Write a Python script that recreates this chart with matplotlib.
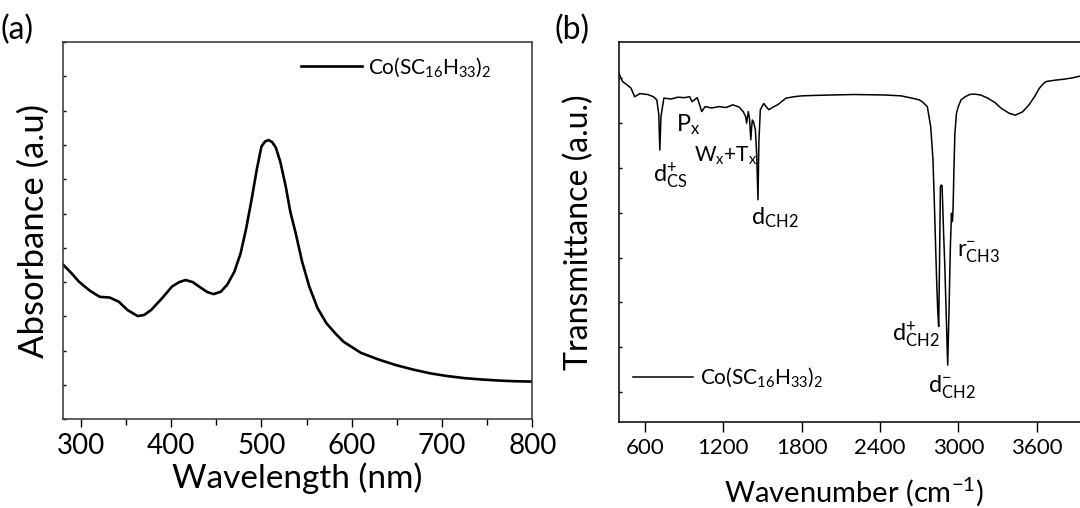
import matplotlib
matplotlib.use("Agg")
import matplotlib.pyplot as plt
from matplotlib.ticker import MultipleLocator, NullFormatter

plt.rcParams['font.family'] = ['Lato', 'DejaVu Sans']
plt.rcParams['mathtext.fontset'] = 'custom'
plt.rcParams['mathtext.rm'] = 'Lato'
plt.rcParams['mathtext.it'] = 'Lato:italic'
plt.rcParams['mathtext.bf'] = 'Lato:bold'

# (a) UV-vis absorbance
wavelength = [280, 290, 298, 310, 321, 332, 342, 352, 363, 370, 378, 390, 401,
              409, 416, 424, 431, 440, 447, 455, 462, 470, 477, 483, 489, 495,
              500, 504, 508, 512, 516, 521, 527, 532, 538, 545, 553, 562, 572,
              582, 591, 610, 630, 649, 668, 687, 706, 725, 744, 763, 780, 800]
absorbance = [4.52, 4.25, 4.01, 3.75, 3.57, 3.55, 3.43, 3.18, 3.01, 3.04, 3.19,
              3.53, 3.87, 4.00, 4.06, 4.00, 3.87, 3.71, 3.65, 3.72, 3.92, 4.30,
              4.84, 5.55, 6.39, 7.30, 7.95, 8.10, 8.14, 8.08, 7.92, 7.50, 6.78,
              6.05, 5.42, 4.60, 3.87, 3.25, 2.80, 2.50, 2.26, 1.94, 1.74, 1.58,
              1.45, 1.34, 1.26, 1.20, 1.16, 1.13, 1.11, 1.10]

# (b) FTIR transmittance
wavenumber = [400, 428, 460, 493, 520, 560, 620, 665, 690, 705, 713, 722, 744,
              800, 850, 900, 942, 960, 1000, 1034, 1060, 1110, 1166, 1220, 1272,
              1320, 1351, 1370, 1378, 1385, 1391, 1400, 1410, 1416, 1422, 1432,
              1445, 1455, 1465, 1472, 1483, 1509, 1530, 1549, 1580, 1615, 1650,
              1680, 1740, 1799, 1900, 2037, 2200, 2432, 2560, 2644, 2700, 2723,
              2762, 2788, 2805, 2815, 2826, 2834, 2842, 2849, 2855, 2862, 2868,
              2875, 2886, 2896, 2908, 2918, 2928, 2938, 2947, 2951, 2955, 2960,
              2966, 2973, 2985, 2999, 3020, 3052, 3085, 3118, 3170, 3224, 3280,
              3329, 3390, 3435, 3490, 3541, 3585, 3620, 3650, 3672, 3740, 3804,
              3870, 3932, 4000]
transmittance = [81.1, 79.3, 78.6, 77.8, 75.9, 76.6, 76.4, 75.9, 75.2, 72.0,
                 64.0, 71.5, 75.6, 75.4, 75.8, 75.7, 75.9, 74.8, 75.7, 72.6,
                 73.7, 73.4, 73.7, 73.5, 74.1, 73.6, 72.6, 71.5, 70.0, 71.5,
                 72.6, 71.0, 66.3, 69.0, 70.7, 70.2, 68.5, 63.0, 52.9, 66.0,
                 73.0, 74.4, 73.6, 73.0, 73.6, 74.1, 74.9, 75.6, 75.9, 76.1,
                 76.2, 76.3, 76.4, 76.3, 76.1, 75.6, 75.2, 74.8, 73.7, 69.2,
                 62.0, 52.9, 42.0, 34.3, 28.0, 24.6, 38.0, 55.8, 56.2, 56.0,
                 46.0, 38.0, 26.0, 16.0, 28.0, 42.0, 49.9, 48.0, 48.2, 52.0,
                 60.0, 67.7, 72.2, 73.7, 75.2, 75.9, 76.4, 76.5, 76.3, 75.6,
                 74.6, 73.3, 72.2, 71.8, 72.5, 74.1, 76.0, 77.8, 78.8, 79.3,
                 79.6, 79.8, 80.1, 80.5, 80.7]

ftir_labels = ['d$^{+}_{\\mathregular{CS}}$', 'P$_\\mathregular{x}$',
               'W$_\\mathregular{x}$+T$_\\mathregular{x}$',
               'd$_\\mathregular{CH2}$', 'r$^{-}_{\\mathregular{CH3}}$',
               'd$^{+}_{\\mathregular{CH2}}$', 'd$^{-}_{\\mathregular{CH2}}$']
label_x = [660, 837, 975, 1409, 2992, 2490, 2770]
label_y = [56.6, 68.1, 61.4, 47.3, 40.2, 21.2, 10.1]
label_size = [17, 17, 15, 17, 17, 17, 17]

sample = 'Co(SC$_\\mathregular{16}$H$_\\mathregular{33}$)$_\\mathregular{2}$'

fig = plt.figure(figsize=(10.8, 5.08), dpi=100)

# ---- panel (a)
ax1 = fig.add_axes([0.0581, 0.1746, 0.4348, 0.7427])
ax1.plot(wavelength, absorbance, color='black', lw=1.9, label=sample)
ax1.set_xlim(280, 800)
ax1.set_ylim(0, 11)
ax1.xaxis.set_major_locator(MultipleLocator(100))
ax1.xaxis.set_minor_locator(MultipleLocator(50))
ax1.yaxis.set_major_locator(MultipleLocator(1))
ax1.yaxis.set_major_formatter(NullFormatter())
ax1.tick_params(axis='x', which='major', direction='out', length=6, width=1,
                labelsize=20, pad=4)
ax1.tick_params(axis='x', which='minor', direction='out', length=4, width=1)
ax1.tick_params(axis='y', direction='in', length=2, width=1)
for s in ax1.spines.values():
    s.set_linewidth(1.1)
    s.set_color('#333333')
ax1.set_xlabel('Wavelength (nm)', fontsize=24, labelpad=2)
ax1.set_ylabel('Absorbance (a.u)', fontsize=25, labelpad=6)
ax1.legend(loc='center left', bbox_to_anchor=(0.49, 0.934), frameon=False,
           fontsize=15, handlelength=2.9, handletextpad=0.3, borderaxespad=0)
fig.text(0.0, 0.912, '(a)', fontsize=23, ha='left', va='bottom')

# ---- panel (b)
ax2 = fig.add_axes([0.5731, 0.1699, 0.4352, 0.7474])
ax2.plot(wavenumber, transmittance, color='black', lw=1.1, label=sample)
ax2.set_xlim(400, 4000)
ax2.set_ylim(3.37, 88.12)
ax2.xaxis.set_major_locator(MultipleLocator(600))
ax2.yaxis.set_major_locator(MultipleLocator(10))
ax2.yaxis.set_major_formatter(NullFormatter())
ax2.tick_params(axis='x', direction='out', length=7, width=1, labelsize=16, pad=5)
ax2.tick_params(axis='y', direction='in', length=2, width=1)
for s in ax2.spines.values():
    s.set_linewidth(1.1)
ax2.set_xlabel('Wavenumber (cm$^\\mathregular{-1}$)', fontsize=21, labelpad=12)
ax2.set_ylabel('Transmittance (a.u.)', fontsize=23, labelpad=14)
ax2.legend(loc='center left', bbox_to_anchor=(0.012, 0.116), frameon=False,
           fontsize=15, handlelength=2.9, handletextpad=0.3, borderaxespad=0)
for txt, xx, yy, fs in zip(ftir_labels, label_x, label_y, label_size):
    ax2.text(xx, yy, txt, fontsize=fs, ha='left', va='baseline')
fig.text(0.513, 0.912, '(b)', fontsize=23, ha='left', va='bottom')

fig.savefig('out.png', dpi=100)
